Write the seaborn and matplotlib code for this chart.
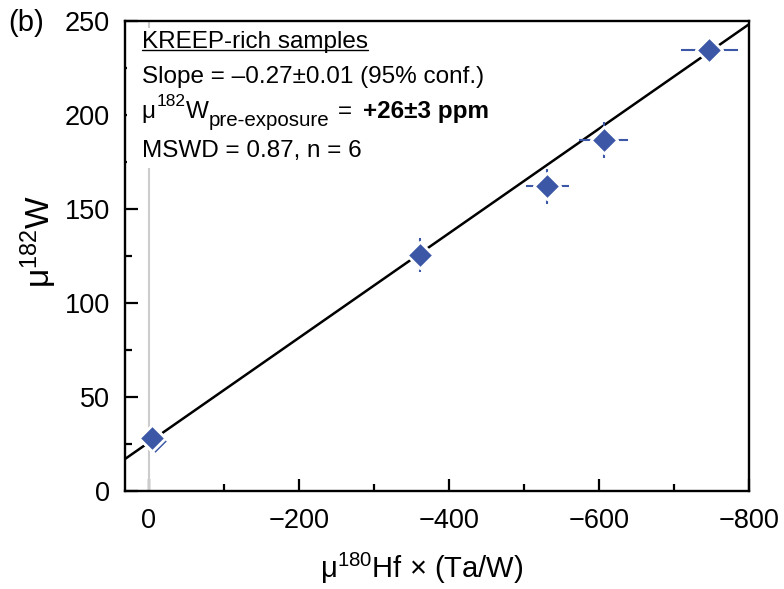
import numpy as np
import matplotlib
matplotlib.use('Agg')
import matplotlib.pyplot as plt
import matplotlib.transforms as mtransforms
from matplotlib.lines import Line2D
from matplotlib.patches import Rectangle
from matplotlib.ticker import MultipleLocator
import seaborn as sns

# valeurs (KREEP-rich samples)
hf_ta_w = [-8.4, -4.4, -362, -531, -606, -747]
mu182w = [26.8, 28.4, 125.4, 162.0, 186.5, 234.6]
x_err = [4, 5, 12, 29, 33, 38]
y_err = [3, 4, 9, 9.5, 9.6, 5]

# droite d'isochrone
fit_slope = -0.278
fit_intercept = 25.9
fit_x = np.array([32, -800])

x_ticks = [0, -200, -400, -600, -800]
y_ticks = [0, 50, 100, 150, 200, 250]

blue = '#3b57a6'

sns.set_theme(style='ticks')
plt.rcParams['font.family'] = ['Liberation Sans', 'DejaVu Sans']
plt.rcParams['mathtext.fontset'] = 'custom'
plt.rcParams['mathtext.rm'] = 'Liberation Sans'
plt.rcParams['mathtext.it'] = 'Liberation Sans:italic'
plt.rcParams['mathtext.bf'] = 'Liberation Sans:bold'
plt.rcParams['text.color'] = 'black'
plt.rcParams['axes.labelcolor'] = 'black'

fig, ax = plt.subplots(figsize=(7.84, 5.89), dpi=100)
fig.subplots_adjust(left=0.1594, right=0.9554, bottom=0.1664, top=0.9643)

# ligne verticale grise à x = 0
ax.axvline(0, color='#cccccc', lw=1.5, zorder=1)

# fond blanc sous le texte
ax.add_patch(Rectangle((0.004, 0.687), 0.6, 0.298, transform=ax.transAxes,
                       facecolor='white', edgecolor='none', zorder=1.5))

sns.lineplot(x=fit_x, y=fit_intercept + fit_slope * fit_x, color='black',
             lw=1.8, ax=ax, zorder=2, sort=False)
ax.errorbar(hf_ta_w, mu182w, xerr=x_err, yerr=y_err, fmt='none',
            ecolor=blue, elinewidth=1.5, capsize=0, zorder=3)
sns.scatterplot(x=hf_ta_w, y=mu182w, marker='D', s=13.5**2, color=blue,
                edgecolor='white', linewidth=2, ax=ax, zorder=4)

ax.set_xlim(32, -800)
ax.set_ylim(0, 250)
ax.set_xticks(x_ticks)
ax.set_yticks(y_ticks)
ax.xaxis.set_minor_locator(MultipleLocator(100))
ax.yaxis.set_minor_locator(MultipleLocator(25))
ax.tick_params(which='both', direction='in', width=1.6, color='black',
               top=False, right=False)
ax.tick_params(which='major', length=9)
ax.tick_params(which='minor', length=5)
ax.tick_params(axis='x', labelsize=19.5, pad=12, labelcolor='black')
ax.tick_params(axis='y', labelsize=19.5, pad=11, labelcolor='black')
for sp in ax.spines.values():
    sp.set_linewidth(1.7)
    sp.set_color('black')

ax.set_xlabel('μ$^{\\mathregular{180}}$Hf × (Ta/W)', fontsize=21, labelpad=12)
ax.xaxis.label.set_x(0.476)
ax.set_ylabel('μ$^{\\mathregular{182}}$W', fontsize=24, labelpad=4)
ax.yaxis.label.set_y(0.53)

fig.text(0.010, 1 - 23 / 589, '(b)', fontsize=21, va='center')

# bloc de texte
tx = 0.027
fs = 17.5
t1 = ax.text(tx, 0.943, 'KREEP-rich samples', transform=ax.transAxes,
             fontsize=fs, va='baseline', zorder=5)
ax.text(tx, 0.868, 'Slope = \u20130.27\u00b10.01 (95% conf.)', transform=ax.transAxes,
        fontsize=fs, va='baseline', zorder=5)
ax.text(tx, 0.711, 'MSWD = 0.87, n = 6', transform=ax.transAxes,
        fontsize=fs, va='baseline', zorder=5)

fig.canvas.draw()
r = fig.canvas.get_renderer()
bb1 = t1.get_window_extent(r)
base1 = ax.transAxes.transform((tx, 0.943))[1] - 2.5
W, H = fig.bbox.width, fig.bbox.height
fig.add_artist(Line2D([bb1.x0 / W, bb1.x1 / W], [base1 / H, base1 / H],
                      color='black', lw=1.0))

# ligne 3 : morceaux (texte, taille, décalage vertical px, gras, espace avant px)
pieces = [('μ', fs, 0, 'normal', 0),
          ('182', 12.5, 12, 'normal', 1),
          ('W', fs, 0, 'normal', 0),
          ('pre-exposure', 14.8, -8, 'normal', 0),
          ('=', fs, 0, 'normal', 9),
          ('+26\u00b13 ppm', fs, 0, 'bold', 11)]
offx = 0
for s, size, dy, weight, gap in pieces:
    offx += gap
    tr = mtransforms.offset_copy(ax.transAxes, fig=fig, x=offx, y=dy, units='dots')
    t = ax.text(tx, 0.794, s, transform=tr, fontsize=size, fontweight=weight,
                va='baseline', zorder=5)
    offx += t.get_window_extent(r).width

fig.savefig('out.png', dpi=100)
